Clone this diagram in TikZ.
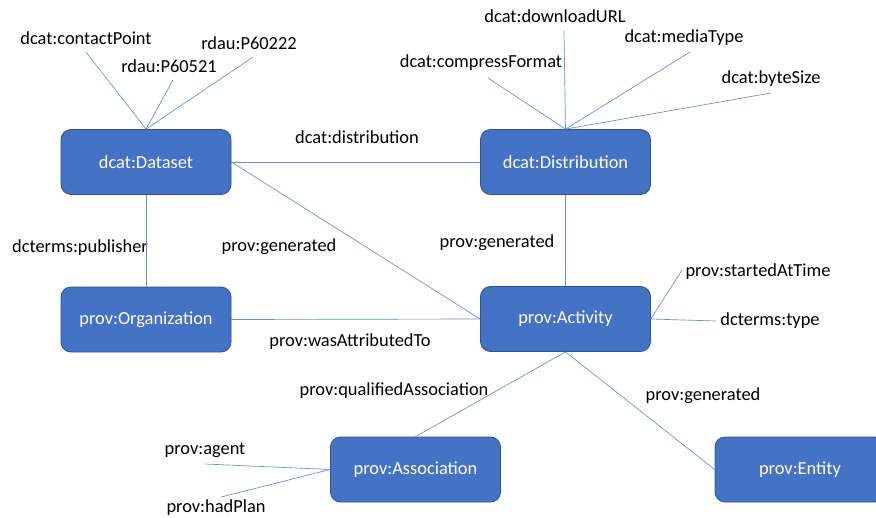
\documentclass[tikz,border=0pt]{standalone}
\usepackage{fontspec}
\setmainfont{Carlito}
\definecolor{boxblue}{HTML}{4472C4}
\definecolor{boxedge}{HTML}{2F528F}
\begin{document}
\begin{tikzpicture}[x=0.75pt,y=-0.75pt,font=\fontsize{13.8pt}{16pt}\selectfont,
  cls/.style={draw=boxedge,fill=boxblue,text=white,rounded corners=7.5pt,
    minimum width=127.5pt,minimum height=48.75pt,inner sep=0pt,line width=0.6pt},
  link/.style={draw=boxblue!80,line width=0.5pt}]
\useasboundingbox (0,0) rectangle (876,518);
\clip (0,0) rectangle (876,518);

\node[cls] (dataset) at (146,162) {dcat:Dataset};
\node[cls] (distrib) at (565.5,162) {dcat:Distribution};
\node[cls] (org) at (146,319.5) {prov:Organization};
\node[cls] (activity) at (565.5,319) {prov:Activity};
\node[cls] (assoc) at (415.5,469.5) {prov:Association};
\node[cls] (entity) at (800,469.5) {prov:Entity};

\node (l-contact) at (86,38) {dcat:contactPoint};
\node (l-p60521) at (169,66) {rdau:P60521};
\node (l-p60222) at (249,43) {rdau:P60222};
\node (l-distrib) at (357,137) {dcat:distribution};
\node (l-compress) at (481,63) {dcat:compressFormat};
\node (l-download) at (555,16) {dcat:downloadURL};
\node (l-media) at (684,38) {dcat:mediaType};
\node (l-bytes) at (771,79) {dcat:byteSize};
\node (l-publisher) at (80,248) {dcterms:publisher};
\node (l-gen1) at (279,247) {prov:generated};
\node (l-gen2) at (497,243) {prov:generated};
\node (l-attrib) at (350,342) {prov:wasAttributedTo};
\node (l-started) at (758,272) {prov:startedAtTime};
\node (l-type) at (770,321) {dcterms:type};
\node (l-qualified) at (394,391) {prov:qualifiedAssociation};
\node (l-gen3) at (703,396) {prov:generated};
\node (l-agent) at (205,450) {prov:agent};
\node[inner ysep=1pt] (l-plan) at (216,508) {prov:hadPlan};

\coordinate (e-contact) at (86,52);
\coordinate (e-p60521) at (173,80);
\coordinate (e-p60222) at (253,57);
\coordinate (e-compress) at (488,78);
\coordinate (e-download) at (564,31);
\coordinate (e-media) at (690,52);
\coordinate (e-bytes) at (771,93);
\coordinate (e-started) at (682,270);
\coordinate (e-type) at (716,321);
\coordinate (e-agent) at (205,464);
\coordinate (e-plan) at (221,497);

\draw[link] (dataset) -- (distrib);
\draw[link] (dataset) -- (org);
\draw[link] (distrib) -- (activity);
\draw[link] (dataset.east) -- (activity.west);
\draw[link] (org.east) -- (activity.west);
\draw[link] (activity.south) -- (assoc.north);
\draw[link] (activity.south) -- (entity.west);

\draw[link] (dataset.north) -- (e-contact);
\draw[link] (dataset.north) -- (e-p60521);
\draw[link] (dataset.north) -- (e-p60222);
\draw[link] (distrib.north) -- (e-compress);
\draw[link] (distrib.north) -- (e-download);
\draw[link] (distrib.north) -- (e-media);
\draw[link] (distrib.north) -- (e-bytes);
\draw[link] (activity.east) -- (e-started);
\draw[link] (activity.east) -- (e-type);
\draw[link] (assoc.west) -- (e-agent);
\draw[link] (assoc.west) -- (e-plan);
\end{tikzpicture}
\end{document}
